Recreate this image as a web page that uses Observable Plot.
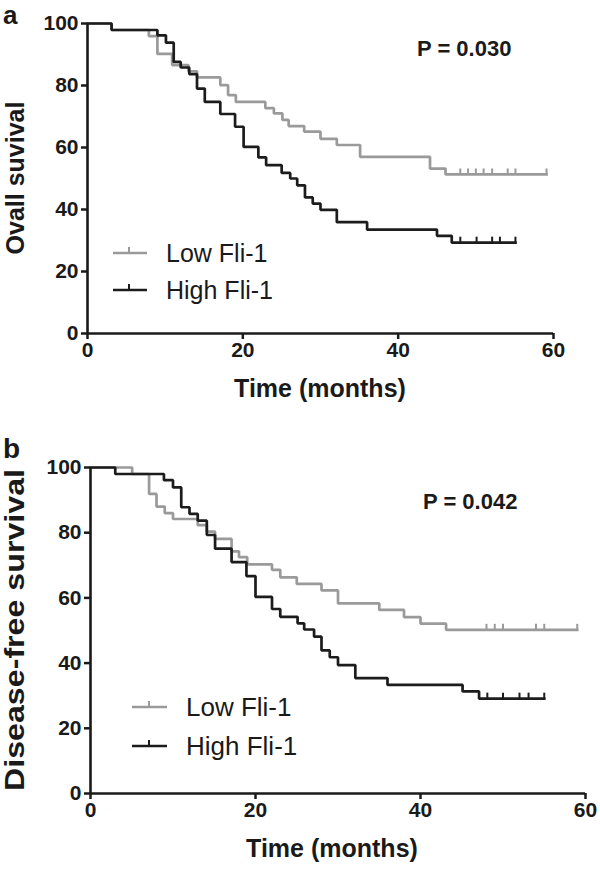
<!DOCTYPE html>
<html>
<head>
<meta charset="utf-8">
<script src="https://cdn.jsdelivr.net/npm/d3@7"></script>
<script src="https://cdn.jsdelivr.net/npm/@observablehq/plot@0.6"></script>
<style>
  html, body { margin: 0; padding: 0; background: #fff; }
  #root { position: relative; width: 600px; height: 873px; overflow: hidden; font-family: "Liberation Sans", Arial, sans-serif; }
  .panel { position: absolute; left: 0; }
  #overlay { position: absolute; left: 0; top: 0; pointer-events: none; }
</style>
</head>
<body>
<div id="root">
  <div id="pa" class="panel" style="top:0px"></div>
  <div id="pb" class="panel" style="top:440px"></div>
  <svg id="overlay" width="600" height="873" xmlns="http://www.w3.org/2000/svg"></svg>
</div>
<script>
// ---------------- data ----------------
const xTicks = [0, 20, 40, 60];
const yTicks = [0, 20, 40, 60, 80, 100];
const groupNames = ["Low Fli-1", "High Fli-1"];

// Panel a: overall survival
const a_low_times = [0, 3.1, 7.9, 9.0, 10.9, 13.0, 14.1, 17.1, 18.1, 19.1, 22.9, 24.0, 25.1, 25.9, 27.9, 30.0, 32.1, 35.1, 44.1, 46.1];
const a_low_surv  = [100, 97.9, 95.9, 90.2, 86.6, 84.6, 82.6, 80.1, 76.9, 74.7, 72.7, 71.0, 68.9, 66.9, 65.1, 62.8, 60.8, 57.0, 53.2, 51.3];
const a_low_end = 59.1;
const a_low_censor = [48.0, 49.0, 50.0, 51.0, 52.1, 54.1, 55.1, 59.1];

const a_high_times = [0, 3.1, 9.0, 10.1, 11.1, 12.0, 13.1, 14.1, 15.1, 17.1, 19.0, 20.1, 22.0, 23.0, 25.0, 26.1, 27.0, 28.0, 29.0, 30.0, 32.1, 36.0, 45.0, 46.9];
const a_high_surv  = [100, 97.9, 96.2, 93.8, 87.6, 85.8, 83.7, 79.0, 74.7, 70.8, 66.7, 60.2, 56.8, 54.3, 51.8, 50.0, 47.8, 43.9, 41.9, 39.9, 35.9, 33.5, 31.5, 29.3];
const a_high_end = 55.1;
const a_high_censor = [48.0, 50.1, 52.1, 53.1, 55.1];

// Panel b: disease-free survival
const b_low_times = [0, 5.05, 7.1, 8.0, 9.0, 10.0, 13.0, 14.1, 15.1, 17.1, 18.0, 19.0, 22.0, 23.0, 25.0, 28.0, 30.0, 35.0, 38.0, 40.0, 43.1];
const b_low_surv  = [100, 98.0, 91.9, 88.0, 86.0, 84.2, 82.3, 80.3, 78.1, 74.3, 72.5, 70.3, 68.6, 66.3, 64.3, 62.3, 58.3, 56.3, 54.1, 52.1, 50.2];
const b_low_end = 59.0;
const b_low_censor = [48.0, 49.0, 50.0, 54.0, 55.0, 59.0];

const b_high_times = [0, 3.0, 8.9, 10.0, 11.0, 12.0, 13.0, 14.1, 15.1, 17.1, 18.9, 20.0, 22.0, 23.0, 25.1, 25.9, 27.1, 28.0, 29.0, 30.0, 32.1, 36.0, 45.1, 47.1];
const b_high_surv  = [100, 98.0, 96.1, 93.9, 87.8, 85.8, 83.7, 79.3, 75.1, 71.0, 66.7, 60.3, 56.6, 54.2, 52.2, 50.3, 48.1, 43.9, 41.8, 39.4, 35.4, 33.3, 31.3, 29.1];
const b_high_end = 55.0;
const b_high_censor = [48.1, 50.0, 52.0, 53.1, 55.0];

// ---------------- helpers ----------------
const COL_LOW = "#9a9a9a";
const COL_HIGH = "#1c1c1c";
const AXIS = "#1a1a1a";

function stepRows(times, surv, end) {
  const rows = times.map((t, i) => ({ t, s: surv[i] }));
  rows.push({ t: end, s: surv[surv.length - 1] });
  return rows;
}
function survAt(times, surv, t) {
  let s = surv[0];
  for (let i = 0; i < times.length; i++) if (times[i] <= t) s = surv[i];
  return s;
}
function censorRows(times, surv, cens) {
  return cens.map(t => ({ t, s: survAt(times, surv, t) }));
}
const tickUp = {
  draw(ctx, size) {
    const r = Math.sqrt(size / Math.PI);
    ctx.moveTo(0, 0);
    ctx.lineTo(0, -r);
  }
};

function panel(opts) {
  const low = stepRows(opts.lowT, opts.lowS, opts.lowEnd);
  const high = stepRows(opts.highT, opts.highS, opts.highEnd);
  const lowC = censorRows(opts.lowT, opts.lowS, opts.lowC);
  const highC = censorRows(opts.highT, opts.highS, opts.highC);
  return Plot.plot({
    width: 600,
    height: opts.height,
    marginTop: opts.mt,
    marginBottom: opts.mb,
    marginLeft: opts.ml,
    marginRight: opts.mr,
    style: { fontFamily: "Liberation Sans, Arial, sans-serif", fontSize: "21px", fontWeight: "bold", color: AXIS, background: "transparent", overflow: "visible" },
    x: { domain: [0, 60] },
    y: { domain: [0, 100] },
    marks: [
      Plot.axisX({ ticks: xTicks, tickSize: 6, tickPadding: 3, strokeWidth: 2.5, stroke: AXIS, fill: AXIS, label: null, tickFormat: d => String(d) }),
      Plot.axisY({ ticks: yTicks, tickSize: 6, tickPadding: 3, strokeWidth: 2.5, stroke: AXIS, fill: AXIS, label: null, tickFormat: d => String(d) }),
      Plot.line(low, { x: "t", y: "s", curve: "step-after", stroke: COL_LOW, strokeWidth: 2.7, strokeLinejoin: "miter", strokeLinecap: "square" }),
      Plot.dot(lowC, { x: "t", y: "s", symbol: tickUp, r: 6, fill: "none", stroke: COL_LOW, strokeWidth: 2 }),
      Plot.line(high, { x: "t", y: "s", curve: "step-after", stroke: COL_HIGH, strokeWidth: 2.7, strokeLinejoin: "miter", strokeLinecap: "square" }),
      Plot.dot(highC, { x: "t", y: "s", symbol: tickUp, r: 6, fill: "none", stroke: COL_HIGH, strokeWidth: 2 }),
      Plot.ruleX([0], { stroke: AXIS, strokeWidth: 2.6 }),
      Plot.ruleY([0], { stroke: AXIS, strokeWidth: 2.6 })
    ]
  });
}

document.getElementById("pa").appendChild(panel({
  height: 400, mt: 23, mb: 67, ml: 87, mr: 47,
  lowT: a_low_times, lowS: a_low_surv, lowEnd: a_low_end, lowC: a_low_censor,
  highT: a_high_times, highS: a_high_surv, highEnd: a_high_end, highC: a_high_censor
}));
document.getElementById("pb").appendChild(panel({
  height: 433, mt: 27, mb: 80, ml: 90, mr: 15,
  lowT: b_low_times, lowS: b_low_surv, lowEnd: b_low_end, lowC: b_low_censor,
  highT: b_high_times, highS: b_high_surv, highEnd: b_high_end, highC: b_high_censor
}));

// ---------------- overlay texts & legends ----------------
const ov = d3.select("#overlay");
const FF = "Liberation Sans, Arial, sans-serif";
function txt(x, y, s, size, weight, anchor, extra) {
  const t = ov.append("text").attr("x", x).attr("y", y).text(s)
    .attr("font-family", FF).attr("font-size", size).attr("font-weight", weight)
    .attr("fill", "#1a1a1a").attr("text-anchor", anchor || "start");
  if (extra) extra(t);
  return t;
}
// panel letters
txt(3, 24, "a", 26, "bold");
txt(3, 458, "b", 28, "bold");
// y titles
txt(0, 0, "Ovall suvival", 25, "bold", "middle", t => t.attr("transform", "translate(24,178) rotate(-90)"));
txt(0, 0, "Disease-free survival", 27, "bold", "middle", t => t.attr("transform", "translate(24,630) rotate(-90)").attr("textLength", 322).attr("lengthAdjust", "spacingAndGlyphs"));
// x titles
txt(320, 397, "Time (months)", 25, "bold", "middle");
txt(332, 857, "Time (months)", 25, "bold", "middle");
// p-values
txt(417, 56, "P = 0.030", 22, "bold");
txt(423, 509, "P = 0.042", 22, "bold");
// legends
function legend(x0, x1, xt, y, color, label, size) {
  ov.append("line").attr("x1", x0).attr("x2", x1).attr("y1", y).attr("y2", y).attr("stroke", color).attr("stroke-width", 2.7);
  ov.append("line").attr("x1", xt).attr("x2", xt).attr("y1", y).attr("y2", y - 6).attr("stroke", color).attr("stroke-width", 2);
  txt(x1 + 19, y + 9, label, size, "normal");
}
legend(113, 147, 129, 253, COL_LOW, groupNames[0], 25);
legend(113, 147, 129, 290, COL_HIGH, groupNames[1], 25);
legend(132, 167, 149, 707, COL_LOW, groupNames[0], 26);
legend(132, 167, 149, 746, COL_HIGH, groupNames[1], 26);
</script>
</body>
</html>
